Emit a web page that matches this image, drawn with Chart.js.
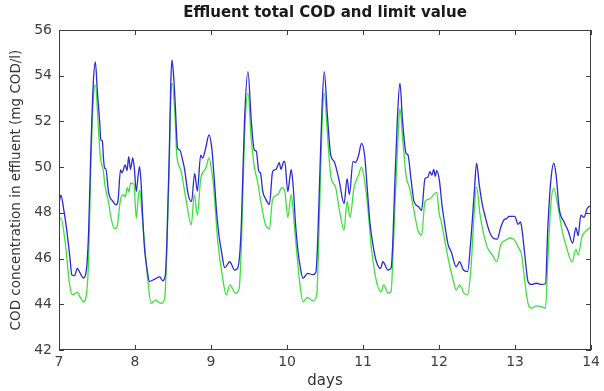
<!DOCTYPE html>
<html>
<head>
<meta charset="utf-8">
<script src="https://cdn.jsdelivr.net/npm/chart.js@4.4.1/dist/chart.umd.min.js"></script>
<style>
html,body{margin:0;padding:0;background:#fff;}
#wrap{width:604px;height:391px;}
</style>
</head>
<body>
<div id="wrap"><canvas id="chart" width="604" height="391"></canvas></div>
<script>
//values (days, mg COD/l)
var totalDays = [7.00,7.026,7.06,7.10,7.14,7.17,7.205,7.24,7.28,7.32,7.36,7.39,7.417,7.45,7.478,7.505,7.535,7.55,7.57,7.585,7.60,7.615,7.652,7.71,7.75,7.775,7.81,7.83,7.87,7.895,7.917,7.94,7.97,7.99,
  8.017,8.04,8.06,8.08,8.10,8.125,8.16,8.19,8.26,8.325,8.365,8.40,8.42,8.45,8.47,8.486,8.51,8.53,8.56,8.59,8.62,8.65,8.70,8.743,8.785,8.82,8.864,8.89,8.93,8.973,
  9.01,9.04,9.073,9.105,9.138,9.18,9.246,9.31,9.35,9.38,9.40,9.44,9.486,9.53,9.57,9.595,9.63,9.65,9.68,9.72,9.768,9.81,9.855,9.898,9.92,9.95,9.97,
  10.01,10.035,10.055,10.08,10.11,10.14,10.175,10.21,10.27,10.34,10.38,10.40,10.425,10.46,10.49,10.53,10.576,10.62,10.686,10.75,10.79,10.82,10.868,10.90,10.94,10.98,
  11.02,11.05,11.09,11.13,11.176,11.23,11.26,11.33,11.37,11.39,11.415,11.45,11.485,11.52,11.567,11.59,11.63,11.67,11.73,11.77,11.815,11.85,11.88,11.905,11.93,11.95,11.97,
  12.005,12.04,12.07,12.12,12.16,12.225,12.27,12.32,12.375,12.42,12.465,12.493,12.53,12.57,12.61,12.66,12.71,12.765,12.81,12.855,12.89,12.92,12.995,
  13.04,13.07,13.09,13.128,13.17,13.215,13.28,13.345,13.40,13.43,13.47,13.51,13.54,13.58,13.645,13.70,13.757,13.80,13.83,13.865,13.905,13.95,14.0];
var totalCod = [48.42,48.78,48.2,47.3,46.16,45.28,45.25,45.57,45.35,45.15,45.5,47.2,50.5,53.6,54.6,53.3,52.0,51.2,51.15,50.4,49.95,49.95,48.9,48.5,48.35,48.5,49.88,49.75,50.1,49.85,50.46,49.9,50.4,50.0,
  48.93,49.6,50.02,49.3,47.9,46.45,45.5,45.0,45.1,45.2,45.03,45.3,46.8,50.5,53.6,54.69,53.9,52.7,50.83,50.75,50.4,49.95,48.8,48.49,49.73,48.95,50.53,50.4,50.83,51.41,
  50.83,49.6,48.05,47.0,46.3,45.6,45.86,45.5,45.57,46.3,47.6,52.0,54.18,52.0,50.75,50.7,49.8,49.75,48.95,48.6,48.37,49.8,49.9,50.2,49.9,50.2,50.25,
  48.93,49.5,49.9,49.2,47.6,46.45,45.6,45.14,45.35,45.3,45.4,46.5,49.0,52.6,54.18,52.3,50.5,50.25,49.4,48.4,49.5,48.8,50.25,50.2,50.5,51.04,
  50.53,49.3,47.6,46.6,45.86,45.57,45.86,45.5,45.6,46.6,49.0,52.0,53.67,52.0,50.6,50.55,49.5,48.5,48.27,48.1,49.5,49.55,49.8,49.65,49.9,49.6,49.85,
  49.4,48.3,47.6,46.6,46.3,45.64,45.86,45.5,45.43,46.9,49.0,50.17,49.2,48.35,47.8,47.2,46.9,46.85,47.35,47.7,47.75,47.85,47.85,
  47.5,47.6,47.3,46.16,45.0,44.87,44.92,44.87,44.9,47.3,49.4,50.17,49.65,48.2,47.6,47.2,46.67,47.35,47.0,47.9,47.8,48.2,48.3];

var limitDays = [7.00,7.026,7.08,7.14,7.18,7.24,7.28,7.32,7.36,7.39,7.417,7.45,7.478,7.52,7.545,7.565,7.585,7.60,7.615,7.65,7.685,7.73,7.76,7.81,7.85,7.87,7.90,7.92,7.94,7.985,
  8.017,8.04,8.06,8.10,8.17,8.21,8.27,8.34,8.39,8.42,8.45,8.47,8.49,8.525,8.55,8.60,8.675,8.74,8.78,8.82,8.865,8.93,8.973,
  9.01,9.03,9.09,9.16,9.20,9.25,9.32,9.37,9.40,9.44,9.486,9.53,9.57,9.61,9.66,9.715,9.768,9.81,9.88,9.93,9.97,
  10.01,10.055,10.10,10.17,10.21,10.27,10.34,10.39,10.43,10.46,10.49,10.53,10.576,10.64,10.69,10.75,10.79,10.83,10.88,10.94,10.98,
  11.02,11.06,11.11,11.176,11.24,11.27,11.33,11.37,11.39,11.42,11.46,11.485,11.52,11.567,11.61,11.67,11.72,11.77,11.815,11.87,11.93,11.97,
  12.0,12.03,12.12,12.19,12.225,12.27,12.33,12.375,12.42,12.46,12.493,12.54,12.59,12.64,12.70,12.76,12.81,12.875,12.94,12.995,
  13.04,13.085,13.128,13.17,13.215,13.28,13.345,13.40,13.43,13.47,13.51,13.56,13.62,13.68,13.75,13.80,13.83,13.88,13.93,14.0];
var limitCod = [47.69,47.77,46.75,44.85,44.41,44.53,44.3,44.11,44.41,46.0,49.8,52.9,53.6,51.6,50.4,50.1,49.8,49.3,49.0,48.5,47.77,47.3,47.35,48.6,48.8,48.7,49.1,48.9,49.3,49.25,
  47.76,48.6,49.0,47.6,45.0,44.04,44.18,44.04,44.25,46.5,50.0,53.0,53.67,52.3,50.5,49.9,48.5,47.47,48.8,47.9,49.5,49.95,50.4,
  49.8,49.3,46.7,45.0,44.41,44.85,44.48,44.7,46.6,51.3,53.25,51.2,50.0,49.4,48.4,47.5,47.3,48.6,48.8,49.1,48.95,
  47.8,48.8,47.3,44.85,44.11,44.3,44.15,44.4,48.35,51.8,53.25,51.5,49.6,49.1,48.1,47.25,48.5,47.8,49.1,49.65,50.0,
  49.4,48.3,46.45,45.0,44.55,44.85,44.48,44.6,45.8,48.35,51.3,52.57,51.3,49.6,49.1,48.1,47.25,47.03,48.5,48.6,48.8,48.9,
  48.0,47.6,46.0,45.0,44.62,44.85,44.48,44.41,45.6,47.9,49.15,47.9,47.03,46.45,46.16,45.86,46.6,46.8,46.9,46.8,
  46.5,46.16,45.0,44.04,43.83,43.93,43.9,43.83,45.86,48.35,49.08,48.35,47.2,46.45,45.86,46.4,46.16,46.96,47.2,47.4];

var xTicks = [7,8,9,10,11,12,13,14];
var yTicks = [42,44,46,48,50,52,54,56];

function points(days, vals){
  return days.map(function(d, i){ return {x: d, y: vals[i]}; });
}

//matlab style box with inward ticks on all sides
var boxPlugin = {
  id: 'box',
  afterDatasetsDraw: function(chart){
    var a = chart.chartArea, ctx = chart.ctx;
    var xs = chart.scales.x, ys = chart.scales.y;
    ctx.save();
    ctx.strokeStyle = '#3c3c3c';
    ctx.lineWidth = 1;
    ctx.strokeRect(Math.round(a.left)+0.5, Math.round(a.top)+0.5, Math.round(a.right-a.left)-1, Math.round(a.bottom-a.top)-1);
    ctx.beginPath();
    xTicks.forEach(function(v){
      var px = Math.round(xs.getPixelForValue(v))+0.5;
      ctx.moveTo(px, a.bottom); ctx.lineTo(px, a.bottom-5);
      ctx.moveTo(px, a.top); ctx.lineTo(px, a.top+5);
    });
    yTicks.forEach(function(v){
      var py = Math.round(ys.getPixelForValue(v))+0.5;
      ctx.moveTo(a.left, py); ctx.lineTo(a.left+5, py);
      ctx.moveTo(a.right, py); ctx.lineTo(a.right-5, py);
    });
    ctx.stroke();
    ctx.restore();
  }
};

var tickFont = {family: 'DejaVu Sans', size: 14};

var chart = new Chart(document.getElementById('chart'), {
  type: 'line',
  data: {
    datasets: [
      {label: 'Effluent total COD', data: points(totalDays, totalCod), borderColor: '#2a2ad2', borderWidth: 1.3, pointRadius: 0, cubicInterpolationMode: 'monotone', fill: false},
      {label: 'Limit value', data: points(limitDays, limitCod), borderColor: '#3ee03e', borderWidth: 1.3, pointRadius: 0, cubicInterpolationMode: 'monotone', fill: false}
    ]
  },
  options: {
    responsive: false,
    animation: false,
    devicePixelRatio: 1,
    layout: {padding: {left: 0, right: 8, top: 0, bottom: 0}},
    plugins: {
      legend: {display: false},
      tooltip: {enabled: false},
      title: {
        display: true,
        fullSize: false,  //center over the plot box, like matlab
        text: 'Effluent total COD and limit value',
        color: '#1a1a1a',
        font: {family: 'DejaVu Sans', size: 15, weight: 'bold'},
        padding: {top: 4, bottom: 8}
      }
    },
    scales: {
      x: {
        type: 'linear', min: 7, max: 14,
        grid: {display: false, drawTicks: false},
        border: {display: false},
        afterBuildTicks: function(axis){ axis.ticks = xTicks.map(function(v){ return {value: v}; }); },
        afterFit: function(axis){ axis.height = 41; },
        ticks: {color: '#404040', font: tickFont, padding: 4, maxRotation: 0},
        title: {display: true, text: 'days', color: '#333', font: {family: 'DejaVu Sans', size: 15}, padding: {top: 0, bottom: 1}}
      },
      y: {
        min: 42, max: 56,
        grid: {display: false, drawTicks: false},
        border: {display: false},
        afterBuildTicks: function(axis){ axis.ticks = yTicks.map(function(v){ return {value: v}; }); },
        afterFit: function(axis){ axis.width = 59; },
        ticks: {color: '#404040', font: tickFont, padding: 7},
        title: {display: true, text: 'COD concentration in effluent (mg COD/l)', color: '#333', font: {family: 'DejaVu Sans', size: 13.5}, padding: {top: 8, bottom: 0}}
      }
    }
  },
  plugins: [boxPlugin]
});
</script>
</body>
</html>
